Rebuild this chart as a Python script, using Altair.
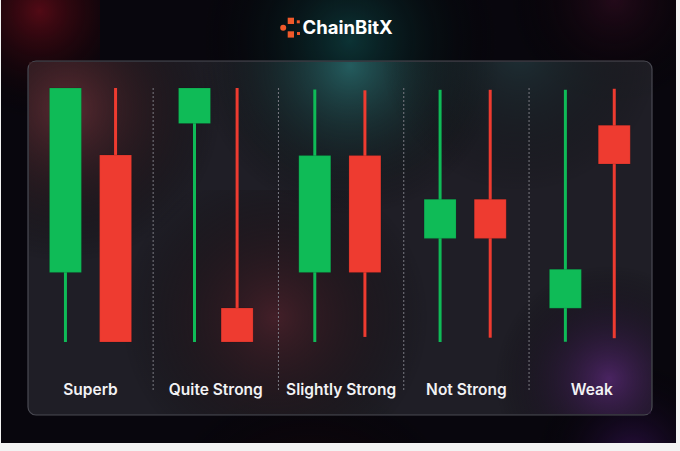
import altair as alt
import pandas as pd

# ---- data ----
categories = ["Superb", "Quite Strong", "Slightly Strong", "Not Strong", "Weak"]
label_pos = [0, 1, 2, 3, 4]
divider_pos = [0.5, 1.5, 2.5, 3.5]
divider_top = [100, 100, 100, 100]
divider_bottom = [-19, -19, -19, -19]

candle_x = [-0.2, 0.2, 0.83, 1.17, 1.79, 2.19, 2.79, 3.19, 3.79, 4.18]
candle_dir = ["up", "down", "up", "down", "up", "down", "up", "down", "up", "down"]
candle_open = [27.4, 73.6, 86.0, 13.4, 27.4, 73.4, 40.8, 56.2, 13.3, 85.3]
candle_close = [100.0, 0.0, 100.0, 0.0, 73.4, 27.4, 56.2, 40.8, 28.6, 70.1]
candle_high = [100.0, 100.0, 100.0, 100.0, 99.4, 99.1, 99.3, 99.3, 99.3, 99.7]
candle_low = [0.0, 0.0, 0.0, 0.0, 0.0, 2.0, 0.0, 1.7, 0.1, 1.5]

candles = pd.DataFrame({
    "x": candle_x, "dir": candle_dir, "open": candle_open,
    "close": candle_close, "high": candle_high, "low": candle_low,
})
labels = pd.DataFrame({"x": label_pos, "label": categories})
dividers = pd.DataFrame({"x": divider_pos, "top": divider_top, "bottom": divider_bottom})
one = pd.DataFrame({"a": [0]})

W, H = 680, 451
xs = alt.Scale(domain=[-0.7223, 4.7047], nice=False, zero=False, padding=0)
ys = alt.Scale(domain=[-42.91, 134.65], nice=False, zero=False, padding=0)
col = alt.Color("dir:N", scale=alt.Scale(domain=["up", "down"], range=["#0fbb57", "#ee3b30"]), legend=None)


def box(x1, x2, y1, y2):
    return dict(x=alt.value(x1), x2=alt.value(x2), y=alt.value(y1), y2=alt.value(y2))


def glow(x1, x2, y1, y2, color, op=1.0, cx=0.5, cy=0.5, r=0.5):
    g = {
        "gradient": "radial",
        "x1": cx, "y1": cy, "r1": 0, "x2": cx, "y2": cy, "r2": r,
        "stops": [
            {"offset": 0, "color": color},
            {"offset": 1, "color": "rgba(0,0,0,0)"},
        ],
    }
    return alt.Chart(one).mark_rect(fill=g, opacity=op).encode(**box(x1, x2, y1, y2))


base_bg = alt.Chart(one).mark_rect(fill="#08060d").encode(**box(1, 676, 0, 443))

outer = [
    glow(1, 100, 0, 220, "#520a15", 1.0, 0.45, 0.05, 0.5),
    glow(200, 500, 0, 200, "#0c3335", 1.0, 0.5, 0.3, 0.5),
    glow(500, 676, 0, 140, "#240a1a", 1.0, 0.65, 0.1, 0.6),
    glow(150, 470, 380, 443, "#2c0a14", 1.0, 0.5, 0.9, 0.5),
    glow(500, 676, 350, 443, "#2a1042", 1.0, 0.75, 0.85, 0.55),
]

panel = alt.Chart(one).mark_rect(
    fill="#2e2e37", fillOpacity=0.6, stroke="#4a4a53", strokeWidth=1.2, cornerRadius=8
).encode(**box(28, 652, 61, 415))

inner = [
    glow(29, 250, 62, 320, "#5c2b32", 1.0, 0.22, 0.18, 0.6),
    glow(200, 500, 62, 310, "#245c5e", 1.0, 0.5, 0.1, 0.5),
    glow(380, 660, 62, 240, "#1d3a3e", 0.6, 0.5, 0.15, 0.5),
    glow(120, 430, 190, 414, "#4c2029", 0.8, 0.5, 0.55, 0.5),
    glow(460, 651, 230, 414, "#4a2462", 1.0, 0.78, 0.8, 0.6),
]

div = alt.Chart(dividers).mark_rule(color="#7a7a82", strokeWidth=1, strokeDash=[2, 2]).encode(
    x=alt.X("x:Q", scale=xs, axis=None),
    y=alt.Y("top:Q", scale=ys, axis=None),
    y2="bottom:Q",
)

wick = alt.Chart(candles).mark_rule(strokeWidth=3).encode(
    x=alt.X("x:Q", scale=xs, axis=None),
    y=alt.Y("high:Q", scale=ys, axis=None),
    y2="low:Q",
    color=col,
)

body = alt.Chart(candles).mark_bar(size=32, stroke="#000000", strokeOpacity=0.12, strokeWidth=1).encode(
    x=alt.X("x:Q", scale=xs, axis=None),
    y=alt.Y("open:Q", scale=ys, axis=None),
    y2="close:Q",
    color=col,
)

txt = alt.Chart(labels).mark_text(
    font="Inter", fontSize=15.5, fontWeight=600, color="#f2f2f4", baseline="alphabetic", align="center"
).encode(
    x=alt.X("x:Q", scale=xs, axis=None),
    y=alt.value(394.5),
    text="label:N",
)

# logo
orange = "#f0592a"
logo_c = alt.Chart(one).mark_point(filled=True, shape="circle", size=36, color=orange, opacity=1).encode(
    x=alt.value(283.2), y=alt.value(27.8))
logo_s = [
    alt.Chart(one).mark_rect(color=orange).encode(**box(287.7, 294, 17.7, 24)),
    alt.Chart(one).mark_rect(color=orange).encode(**box(287.7, 294, 31.3, 37.6)),
    alt.Chart(one).mark_rect(color=orange).encode(**box(296.8, 299.8, 20.3, 23.3)),
    alt.Chart(one).mark_rect(color=orange).encode(**box(297, 300, 32, 35)),
]
logo_t = alt.Chart(one).mark_text(
    text="ChainBitX", font="Inter", fontSize=18.5, fontWeight=700, color="#ffffff",
    align="left", baseline="alphabetic"
).encode(x=alt.value(302.5), y=alt.value(34.3))

chart = alt.layer(
    base_bg, *outer, panel, *inner, div, wick, body, txt, logo_c, *logo_s, logo_t
).properties(
    width=W, height=H, background="#f3f3f3", padding=0,
    autosize=alt.AutoSizeParams(type="none"),
).configure_view(stroke=None)

chart.save("out.html", embed_options={"renderer": "svg", "actions": False})
